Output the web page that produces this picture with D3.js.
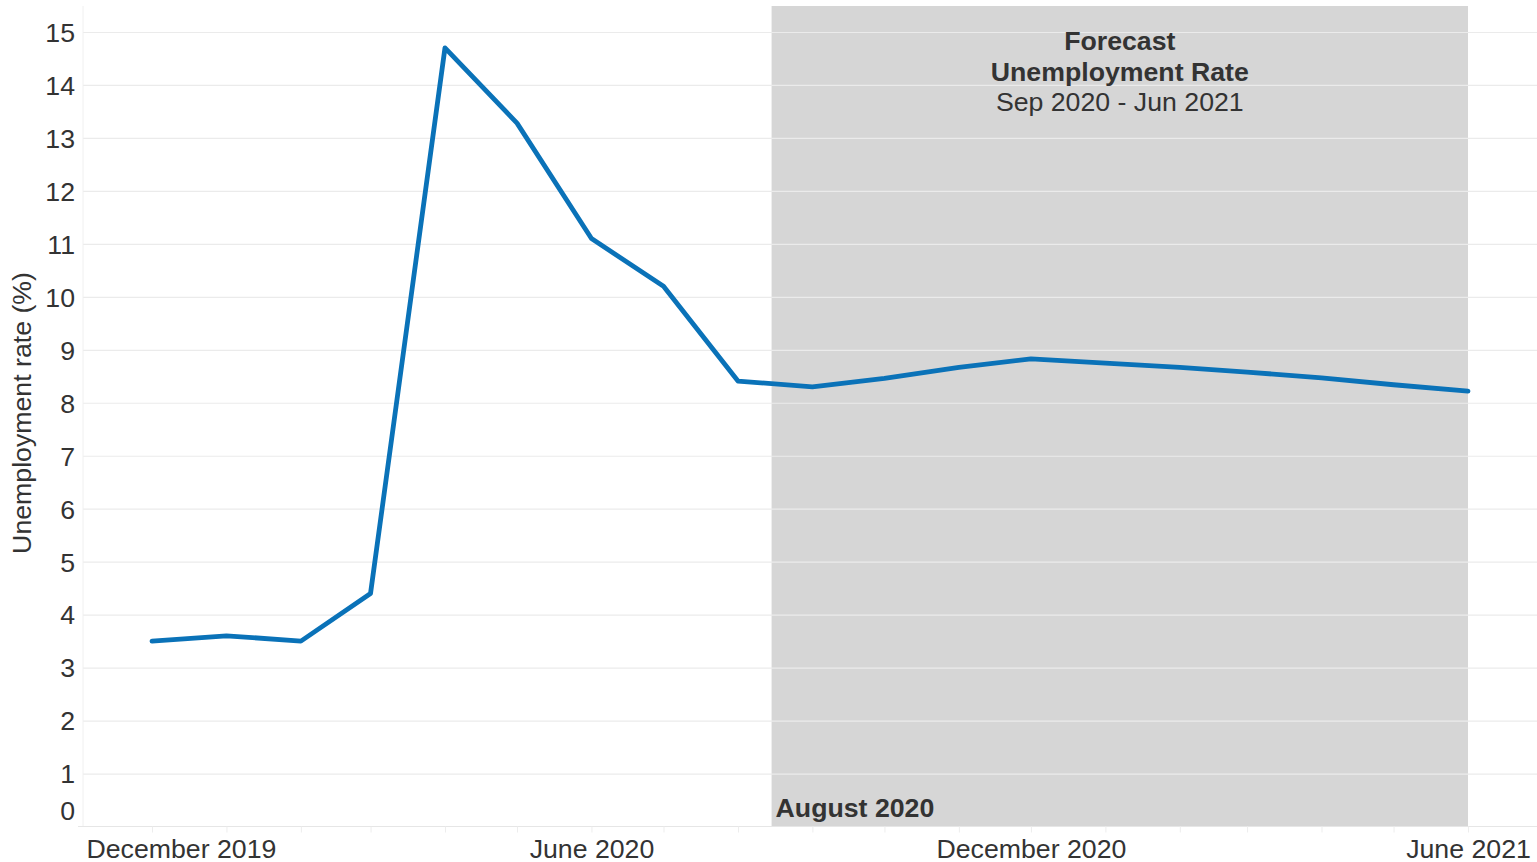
<!DOCTYPE html>
<html>
<head>
<meta charset="utf-8">
<script src="https://cdn.jsdelivr.net/npm/d3@7"></script>
<style>
  html, body { margin: 0; padding: 0; background: #fff; }
  svg { display: block; font-family: "Liberation Sans", Arial, sans-serif; }
</style>
</head>
<body>
<svg id="chart" width="1537" height="862"></svg>
<script>
// ---- data ----
const months = ["2019-12","2020-01","2020-02","2020-03","2020-04","2020-05","2020-06","2020-07","2020-08",
                "2020-09","2020-10","2020-11","2020-12","2021-01","2021-02","2021-03","2021-04","2021-05","2021-06"];
const rates  = [3.5, 3.6, 3.5, 4.4, 14.7, 13.28, 11.1, 10.2, 8.41,
                8.3, 8.46, 8.67, 8.83, 8.75, 8.67, 8.58, 8.47, 8.34, 8.22];
const yTicks = [0,1,2,3,4,5,6,7,8,9,10,11,12,13,14,15];
const xLabelMonths = ["2019-12","2020-06","2020-12","2021-06"];
const forecastStart = "2020-08-15";
const forecastEnd = "2021-06-01";
const forecastTitle = ["Forecast", "Unemployment Rate"];
const forecastSub = "Sep 2020 - Jun 2021";
const lastActualLabel = "August 2020";
const yTitle = "Unemployment rate (%)";

// ---- layout ----
const W = 1537, H = 862;
const plotLeft = 83, plotRight = 1537, plotTop = 6, plotBottom = 826.5;
const fs = "26.7px";
const parseM = d3.timeParse("%Y-%m");
const parseD = d3.timeParse("%Y-%m-%d");
const data = months.map((m, i) => ({ date: parseM(m), value: rates[i] }));

const x = d3.scaleTime().domain([parseM("2019-12"), parseM("2021-06")]).range([152, 1468]);
const y = d3.scaleLinear().domain([0, 15]).range([plotBottom, 32]);

const svg = d3.select("#chart");
const textColor = "#333333";

// forecast shading
svg.append("rect")
  .attr("x", x(parseD(forecastStart)))
  .attr("y", plotTop)
  .attr("width", x(parseD(forecastEnd)) - x(parseD(forecastStart)))
  .attr("height", plotBottom - plotTop)
  .attr("fill", "#d6d6d6");

// gridlines
const grid = svg.append("g").attr("transform", `translate(${plotLeft},0)`)
  .call(d3.axisLeft(y).tickValues(yTicks.filter(v => v > 0)).tickSize(-(plotRight - plotLeft)).tickFormat(""));
grid.select(".domain").remove();
grid.selectAll(".tick line").attr("stroke", "#ebebeb").attr("stroke-width", 1.2);

// left vertical border
svg.append("line").attr("x1", plotLeft).attr("x2", plotLeft).attr("y1", plotTop).attr("y2", plotBottom)
  .attr("stroke", "#f0f0f0").attr("stroke-width", 1);

// x axis
const labelSet = new Set(xLabelMonths);
const fmtKey = d3.timeFormat("%Y-%m");
const fmtLabel = d3.timeFormat("%B %Y");
const xAxis = svg.append("g").attr("transform", `translate(0,${plotBottom})`)
  .call(d3.axisBottom(x)
    .tickValues(months.map(parseM))
    .tickSize(6)
    .tickFormat(d => labelSet.has(fmtKey(d)) ? fmtLabel(d) : ""));
xAxis.select(".domain").attr("d", `M${plotLeft - 5},0H${plotRight}`).attr("stroke", "#e6e6e6").attr("stroke-width", 1.2);
xAxis.selectAll(".tick line").attr("stroke", "#ededed");
xAxis.selectAll(".tick text")
  .attr("fill", textColor)
  .style("font-size", fs)
  .attr("y", 31).attr("dy", 0)
  .each(function(d) {
    const t = d3.select(this);
    const w = this.getComputedTextLength();
    const cx = x(d);
    let left = cx - w / 2;
    if (left < plotLeft + 3) left = plotLeft + 3;
    if (left + w > W - 2) left = W - 2 - w;
    t.attr("text-anchor", "start").attr("x", left - cx);
  });

// y axis labels
const yAxis = svg.append("g").attr("transform", `translate(${plotLeft - 8},0)`)
  .call(d3.axisLeft(y).tickValues(yTicks).tickSize(0).tickPadding(0));
yAxis.select(".domain").remove();
yAxis.selectAll(".tick text")
  .attr("fill", textColor)
  .style("font-size", fs)
  .attr("dy", "0.35em")
  .attr("y", d => Math.min(y(d), plotBottom - 16) - y(d));

// y axis title
svg.append("text")
  .attr("transform", `translate(31,${413}) rotate(-90)`)
  .attr("text-anchor", "middle")
  .attr("fill", textColor)
  .style("font-size", fs)
  .text(yTitle);

// line
const line = d3.line().x(d => x(d.date)).y(d => y(d.value));
svg.append("path")
  .datum(data)
  .attr("d", line)
  .attr("fill", "none")
  .attr("stroke", "#0a72b8")
  .attr("stroke-width", 4.8)
  .attr("stroke-linejoin", "round")
  .attr("stroke-linecap", "round");

// annotations
const cx = (x(parseD(forecastStart)) + x(parseD(forecastEnd))) / 2;
svg.append("text").attr("x", cx).attr("y", 50).attr("text-anchor", "middle")
  .attr("fill", textColor).style("font-size", fs).style("font-weight", "bold").text(forecastTitle[0]);
svg.append("text").attr("x", cx).attr("y", 81).attr("text-anchor", "middle")
  .attr("fill", textColor).style("font-size", fs).style("font-weight", "bold").text(forecastTitle[1]);
svg.append("text").attr("x", cx).attr("y", 111).attr("text-anchor", "middle")
  .attr("fill", textColor).style("font-size", fs).text(forecastSub);
svg.append("text").attr("x", x(parseD(forecastStart)) + 4).attr("y", 817)
  .attr("fill", textColor).style("font-size", fs).style("font-weight", "bold").text(lastActualLabel);
</script>
</body>
</html>
